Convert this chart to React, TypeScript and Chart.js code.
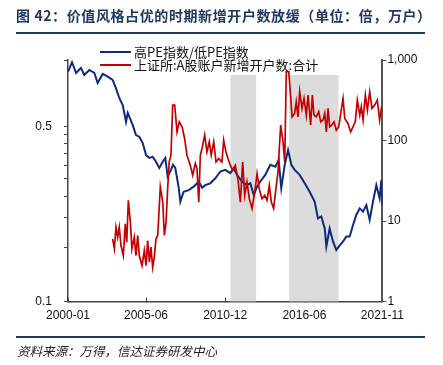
import React, { useEffect, useRef } from "react";
import { Chart, registerables } from "chart.js";

Chart.register(...registerables);

const xTickLabels = ["2000-01", "2005-06", "2010-12", "2016-06", "2021-11"];

const blueTimes = [
  2000.0, 2000.28, 2000.56, 2000.9, 2001.13, 2001.48, 2001.83, 2002.06, 2002.41, 2002.76,
  2003.1, 2003.33, 2003.56, 2003.8, 2004.03, 2004.15, 2004.49, 2004.72, 2004.95, 2005.19,
  2005.42, 2005.65, 2005.88, 2006.11, 2006.34, 2006.58, 2006.76, 2006.92, 2007.15, 2007.29,
  2007.45, 2007.69, 2007.8, 2008.03, 2008.38, 2008.73, 2009.08, 2009.31, 2009.53, 2009.88,
  2010.23, 2010.58, 2010.92, 2011.27, 2011.51, 2011.74, 2012.08, 2012.43, 2012.66, 2012.9,
  2013.13, 2013.35, 2013.7, 2014.05, 2014.4, 2014.63, 2014.81, 2015.05, 2015.28, 2015.51,
  2015.74, 2016.09, 2016.44, 2016.78, 2017.13, 2017.36, 2017.59, 2017.83, 2017.94, 2018.17,
  2018.4, 2018.63, 2018.87, 2019.1, 2019.33, 2019.56, 2019.79, 2020.02, 2020.26, 2020.49,
  2020.72, 2020.95, 2021.18, 2021.41, 2021.64, 2021.76, 2021.83,
];
const blueValues = [
  0.829, 0.904, 0.819, 0.858, 0.804, 0.842, 0.819, 0.747, 0.812, 0.792,
  0.768, 0.713, 0.651, 0.61, 0.523, 0.567, 0.508, 0.463, 0.456, 0.43,
  0.385, 0.375, 0.379, 0.362, 0.342, 0.362, 0.375, 0.316, 0.336, 0.352,
  0.342, 0.285, 0.251, 0.275, 0.279, 0.288, 0.302, 0.285, 0.292, 0.297,
  0.311, 0.331, 0.336, 0.326, 0.341, 0.321, 0.302, 0.292, 0.297, 0.267,
  0.288, 0.302, 0.321, 0.352, 0.346, 0.368, 0.284, 0.352, 0.403, 0.352,
  0.336, 0.321, 0.297, 0.275, 0.251, 0.215, 0.219, 0.196, 0.166, 0.196,
  0.174, 0.161, 0.168, 0.174, 0.182, 0.182, 0.202, 0.222, 0.236, 0.229,
  0.243, 0.212, 0.251, 0.292, 0.259, 0.306, 0.243,
];

const redTimes = [
  2003.1, 2003.22, 2003.33, 2003.45, 2003.56, 2003.68, 2003.84, 2003.98, 2004.08, 2004.19,
  2004.33, 2004.44, 2004.6, 2004.72, 2004.84, 2004.95, 2005.14, 2005.3, 2005.42, 2005.53,
  2005.65, 2005.76, 2005.88, 2005.99, 2006.11, 2006.23, 2006.41, 2006.58, 2006.69, 2006.81,
  2006.92, 2007.03, 2007.15, 2007.27, 2007.41, 2007.57, 2007.73, 2007.92, 2008.1, 2008.26,
  2008.49, 2008.66, 2008.84, 2008.96, 2009.08, 2009.19, 2009.31, 2009.49, 2009.65, 2009.81,
  2009.95, 2010.12, 2010.28, 2010.47, 2010.69, 2010.81, 2010.97, 2011.11, 2011.27, 2011.44,
  2011.62, 2011.81, 2011.97, 2012.13, 2012.27, 2012.43, 2012.59, 2012.78, 2012.97, 2013.13,
  2013.28, 2013.47, 2013.66, 2013.82, 2013.98, 2014.12, 2014.28, 2014.44, 2014.58, 2014.77,
  2014.93, 2015.05, 2015.16, 2015.33, 2015.47, 2015.56, 2015.74, 2015.85, 2015.97, 2016.09,
  2016.25, 2016.39, 2016.55, 2016.67, 2016.85, 2016.97, 2017.08, 2017.24, 2017.41, 2017.55,
  2017.71, 2017.83, 2017.94, 2018.06, 2018.17, 2018.33, 2018.47, 2018.63, 2018.8, 2018.94,
  2019.1, 2019.22, 2019.44, 2019.63, 2019.79, 2019.95, 2020.09, 2020.26, 2020.37, 2020.49,
  2020.65, 2020.79, 2020.95, 2021.11, 2021.3, 2021.48, 2021.64, 2021.76, 2021.83,
];
const redValues = [
  6.04, 4.53, 8.42, 6.32, 8.42, 4.98, 3.74, 9.28, 5.47, 18.1,
  9.72, 4.53, 6.32, 3.74, 6.64, 3.74, 2.81, 4.32, 2.81, 5.75,
  3.09, 4.75, 2.67, 3.56, 6.04, 6.64, 26.5, 17.2, 6.64, 9.72,
  25.3, 54.3, 65.8, 276, 276, 128, 171, 148, 106, 65.8,
  49.4, 37.1, 51.9, 44.9, 17.2, 65.8, 79.7, 117, 72.3, 96.3,
  65.8, 96.3, 54.3, 59.8, 54.3, 101, 72.3, 59.8, 49.4, 42.8,
  49.4, 32.1, 17.2, 54.3, 20.9, 30.6, 19.0, 14.3, 23.0, 38.9,
  25.3, 19.0, 20.9, 18.1, 27.8, 17.2, 14.3, 25.3, 40.7, 156,
  96.3, 54.3, 717, 717, 334, 197, 217, 303, 197, 404,
  251, 334, 207, 367, 156, 367, 207, 197, 228, 171,
  180, 217, 128, 251, 148, 156, 171, 135, 148, 217,
  334, 188, 163, 128, 148, 171, 318, 207, 263, 180,
  367, 239, 404, 251, 276, 318, 180, 251, 239,
];

const shadeStarts = [2011.27, 2015.35];
const shadeEnds = [2013.08, 2018.8];
const shadeLevel = 0.804;

const leftTicks = [0.1, 0.164, 0.216, 0.264, 0.31, 0.35, 0.39, 0.43, 0.465, 0.5, 0.923];
const leftLabels: Record<string, string> = { "0.1": "0.1", "0.5": "0.5" };
const rightTicks = [1, 10, 100, 1000];
const rightLabels = ["1", "10", "100", "1,000"];

const seriesNames = ["高PE指数/低PE指数", "上证所:A股账户新增开户数:合计"];
const BLUE = "#0d2b7e";
const RED = "#c40000";

const monthToYear = (s: string) => {
  const [y, m] = s.split("-").map(Number);
  return y + (m - 1) / 12;
};

const W = 443;
const H = 365;
const PLOT_LEFT = 68;
const PLOT_RIGHT = 382.4;
const PLOT_TOP = 60;
const PLOT_BOTTOM = 301.7;

export default function App() {
  const ref = useRef<HTMLCanvasElement | null>(null);

  useEffect(() => {
    if (!ref.current) return;
    const tickFont = { family: '"Liberation Sans", Arial, sans-serif', size: 12 };
    const shadeSets = shadeStarts.map((s, i) => ({
      type: "line" as const,
      label: "shade" + i,
      data: [
        { x: s, y: shadeLevel },
        { x: shadeEnds[i], y: shadeLevel },
      ],
      yAxisID: "yL",
      fill: "start" as const,
      backgroundColor: "#dcdcdc",
      borderWidth: 0,
      pointRadius: 0,
      order: 5,
    }));
    const chart = new Chart(ref.current, {
      type: "line",
      data: {
        datasets: [
          {
            label: seriesNames[1],
            data: redTimes.map((t, i) => ({ x: t, y: redValues[i] })),
            yAxisID: "yR",
            borderColor: RED,
            borderWidth: 1.7,
            pointRadius: 0,
            tension: 0,
            fill: false,
            order: 1,
          },
          {
            label: seriesNames[0],
            data: blueTimes.map((t, i) => ({ x: t, y: blueValues[i] })),
            yAxisID: "yL",
            borderColor: BLUE,
            borderWidth: 2,
            pointRadius: 0,
            tension: 0,
            fill: false,
            order: 2,
          },
          ...shadeSets,
        ] as any,
      },
      options: {
        animation: false,
        responsive: false,
        devicePixelRatio: 1,
        layout: { padding: { top: PLOT_TOP, left: 0, right: 0, bottom: 0 } },
        plugins: { legend: { display: false }, tooltip: { enabled: false }, title: { display: false } },
        scales: {
          x: {
            type: "linear",
            min: monthToYear(xTickLabels[0]),
            max: monthToYear(xTickLabels[xTickLabels.length - 1]),
            afterBuildTicks: (s: any) => {
              s.ticks = xTickLabels.map((l) => ({ value: monthToYear(l) }));
            },
            afterFit: (s: any) => {
              s.height = H - PLOT_BOTTOM;
            },
            ticks: {
              autoSkip: false,
              maxRotation: 0,
              minRotation: 0,
              padding: 11,
              color: "#111",
              font: tickFont,
              callback: (_v: any, i: number) => xTickLabels[i],
            },
            grid: { drawOnChartArea: false, drawTicks: true, tickLength: -4, color: "#444", lineWidth: 1 },
            border: { display: true, color: "#444", width: 1.5 },
          },
          yL: {
            type: "logarithmic",
            position: "left",
            min: 0.1,
            max: 0.923,
            afterBuildTicks: (s: any) => {
              s.ticks = leftTicks.map((v) => ({ value: v }));
            },
            afterFit: (s: any) => {
              s.width = PLOT_LEFT;
            },
            ticks: {
              autoSkip: false,
              padding: 12,
              color: "#111",
              font: tickFont,
              callback: (v: any) => leftLabels[String(v)] ?? "",
            },
            grid: { drawOnChartArea: false, drawTicks: true, tickLength: 4, color: "#444", lineWidth: 1 },
            border: { display: true, color: "#444", width: 1.5 },
          },
          yR: {
            type: "logarithmic",
            position: "right",
            min: 1,
            max: 1000,
            afterBuildTicks: (s: any) => {
              s.ticks = rightTicks.map((v) => ({ value: v }));
            },
            afterFit: (s: any) => {
              s.width = W - PLOT_RIGHT;
            },
            ticks: {
              autoSkip: false,
              padding: 1,
              color: "#111",
              font: tickFont,
              callback: (_v: any, i: number) => rightLabels[i],
            },
            grid: { drawOnChartArea: false, drawTicks: true, tickLength: 4, color: "#555", lineWidth: 1 },
            border: { display: true, color: "#555", width: 2 },
          },
        },
      } as any,
    });
    return () => chart.destroy();
  }, []);

  const cjk = '"Noto Sans CJK SC", "Noto Sans", sans-serif';
  const legendRow = (name: string, color: string, y: number) => (
    <div style={{ position: "absolute", left: 100, top: y - 8, height: 16, display: "flex", alignItems: "center" }}>
      <div style={{ width: 31, height: 1.6, background: color }} />
      <span style={{ marginLeft: 3, fontFamily: cjk, fontSize: 13, color: "#111", lineHeight: "16px", whiteSpace: "nowrap" }}>
        {name}
      </span>
    </div>
  );

  return (
    <div style={{ position: "fixed", left: 0, top: 0, width: W, height: H, background: "#fff", overflow: "hidden" }}>
      <canvas ref={ref} width={W} height={H} style={{ position: "absolute", left: 0, top: 0, width: W, height: H }} />
      <div
        style={{
          position: "absolute",
          left: 16,
          top: 5,
          fontFamily: cjk,
          fontWeight: 700,
          fontSize: 14,
          lineHeight: "20px",
          color: "#1f3864",
          whiteSpace: "nowrap",
          letterSpacing: 0.6,
        }}
      >
        图 42：价值风格占优的时期新增开户数放缓（单位：倍，万户）
      </div>
      <div style={{ position: "absolute", left: 16, top: 32, width: 409, height: 2, background: "#203864" }} />
      {legendRow(seriesNames[0], BLUE, 52)}
      {legendRow(seriesNames[1], RED, 65)}
      <div style={{ position: "absolute", left: 16, top: 336, width: 409, height: 2, background: "#203864" }} />
      <div
        style={{
          position: "absolute",
          left: 17,
          top: 343,
          fontFamily: cjk,
          fontStyle: "italic",
          fontSize: 12.5,
          lineHeight: "16px",
          color: "#222",
          whiteSpace: "nowrap",
        }}
      >
        资料来源：万得，信达证券研发中心
      </div>
    </div>
  );
}
